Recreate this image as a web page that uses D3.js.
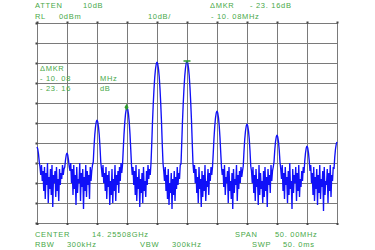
<!DOCTYPE html>
<html>
<head>
<meta charset="utf-8">
<script src="https://cdn.jsdelivr.net/npm/d3@7"></script>
<style>
  body { margin: 0; background: #fff; }
  text { font-family: "Liberation Sans", Arial, sans-serif; font-size: 7.5px; letter-spacing: 0.7px; fill: #48a848; }
</style>
</head>
<body>
<div id="chart"></div>
<script>
// spectrum trace, dBm, 401 points over the 50 MHz span (one row = 5 MHz)
const trace = [
  -62, -63, -65.5, -69.5, -72, -76, -71, -79, -74, -84, -72, -88, -75, -81, -70, -90, -77, -83, -73, -86, -71, -92, -76, -80, -74, -87, -72, -84, -78, -89, -73, -81, -75, -78, -71, -76, -73, -72, -68.5, -66,
  -65, -66, -68.5, -72, -74, -70, -80, -73, -86, -71, -83, -76, -91, -72, -85, -78, -80, -70, -89, -75, -82, -73, -93, -77, -84, -71, -87, -74, -81, -76, -88, -72, -79, -74, -71, -69.5, -62, -56, -52, -49.5,
  -48.5, -49.5, -52, -56, -62, -69.5, -73, -77, -71, -80, -75, -84, -72, -88, -76, -82, -74, -91, -79, -86, -73, -90, -78, -84, -71, -89, -76, -81, -74, -85, -72, -79, -70, -75, -71, -63.2, -55.7, -49.8, -45.6, -43.2,
  -42.2, -43.2, -45.6, -49.8, -55.7, -63.2, -71, -76, -72, -81, -74, -86, -71, -89, -77, -83, -73, -92, -78, -85, -75, -90, -72, -84, -79, -87, -74, -81, -71, -78, -73, -76, -70, -60.5, -49.5, -40.5, -33, -27, -23, -20.5,
  -19.5, -20.5, -23, -27, -33, -40.5, -49.5, -60.5, -70, -74, -79, -72, -84, -76, -88, -73, -91, -80, -85, -75, -93, -78, -86, -74, -89, -77, -83, -72, -81, -75, -78, -71, -70.5, -60, -49, -40, -32.5, -26.5, -22.5, -20,
  -19, -20, -22.5, -26.5, -32.5, -40, -49, -60, -70.5, -75, -71, -80, -73, -85, -77, -90, -72, -83, -78, -92, -74, -87, -76, -84, -71, -89, -79, -82, -73, -86, -75, -79, -72, -76, -72, -65, -57.5, -51.6, -47.4, -45,
  -44, -45, -47.4, -51.6, -57.5, -65, -72, -76, -73, -82, -71, -86, -77, -80, -74, -90, -72, -84, -79, -88, -75, -93, -73, -85, -78, -81, -71, -89, -76, -83, -74, -80, -72, -77, -74, -71.5, -64, -58, -54, -51.5,
  -50.5, -51.5, -54, -58, -64, -71.5, -74, -80, -72, -85, -76, -89, -73, -82, -78, -91, -71, -86, -75, -83, -79, -90, -74, -87, -72, -84, -77, -92, -73, -81, -76, -85, -71, -79, -74, -72, -69.5, -63.6, -59.4, -57,
  -56, -57, -59.4, -63.6, -69.5, -73, -78, -71, -84, -75, -88, -72, -81, -77, -90, -74, -86, -70, -83, -79, -93, -73, -85, -76, -80, -72, -89, -75, -84, -71, -87, -78, -82, -74, -79, -72, -75, -69, -65, -62.5,
  -61.5, -62.5, -65, -69, -74, -71, -80, -75, -86, -72, -89, -77, -83, -73, -91, -76, -85, -71, -88, -78, -82, -74, -94, -72, -86, -79, -81, -73, -90, -75, -84, -71, -87, -76, -79, -72, -73, -67, -63, -60.5,
  -59.5
];

// frequency offsets from center (MHz) and levels (dBm)
const spanMHz = 50;
const xTicks = [-25, -20, -15, -10, -5, 0, 5, 10, 15, 20, 25];
const yTicks = [0, -10, -20, -30, -40, -50, -60, -70, -80, -90, -100];
const markerFreq = 0, markerLevel = -19.0;
const deltaFreq = -10.08, deltaLevel = -42.16;

const headerTop = [
  ["ATTEN", 35, 8], ["10dB", 83, 8], ["ΔMKR", 210, 8], ["- 23. 16dB", 250, 8],
  ["RL", 35, 19], ["0dBm", 59, 19], ["10dB/", 148, 19], ["- 10. 08MHz", 211, 19]
];
const footer = [
  ["CENTER", 35, 237], ["14. 25508GHz", 92, 237], ["SPAN", 235, 237], ["50. 00MHz", 275, 237],
  ["RBW", 35, 247], ["300kHz", 67, 247], ["VBW", 140, 247], ["300kHz", 172, 247], ["SWP", 252, 247], ["50. 0ms", 283, 247]
];
const mkrBox = [
  ["ΔMKR", 40, 71], ["- 10. 08", 40, 81], ["MHz", 100, 81], ["- 23. 16", 40, 91], ["dB", 100, 91]
];

const W = 375, H = 250;
const svg = d3.select("#chart").append("svg")
    .attr("width", W)
    .attr("height", H)

const x = d3.scaleLinear().domain([-spanMHz / 2, spanMHz / 2]).range([37, 337]);
const y = d3.scaleLinear().domain([-100, 0]).range([223, 23]);

// graticule
svg.append("g").selectAll("line")
    .data(xTicks)
    .join("line")
    .attr("x1", d => x(d) + 0.5).attr("x2", d => x(d) + 0.5)
    .attr("y1", y(0)).attr("y2", y(-100))
    .style("stroke", "#7a7a7a")
    .style("stroke-width", 1)

svg.append("g").selectAll("line")
    .data(yTicks)
    .join("line")
    .attr("y1", d => y(d) + 0.5).attr("y2", d => y(d) + 0.5)
    .attr("x1", x(-25)).attr("x2", x(25) + 1)
    .style("stroke", "#7a7a7a")
    .style("stroke-width", 1)

// little tick dots outside the frame
svg.append("g").selectAll("rect")
    .data(xTicks)
    .join("rect")
    .attr("x", d => x(d) - 0.5).attr("y", y(0) - 1.5)
    .attr("width", 2).attr("height", 2)
    .style("fill", "#444")
svg.append("g").selectAll("rect")
    .data(xTicks)
    .join("rect")
    .attr("x", d => x(d) - 0.5).attr("y", y(-100))
    .attr("width", 2).attr("height", 2)
    .style("fill", "#444")
svg.append("g").selectAll("rect")
    .data(yTicks)
    .join("rect")
    .attr("x", x(-25) - 1.5).attr("y", d => y(d) - 0.5)
    .attr("width", 2).attr("height", 2)
    .style("fill", "#444")

// the trace
const step = spanMHz / (trace.length - 1);
const line = d3.line()
    .x((d, i) => x(-spanMHz / 2 + i * step))
    .y(d => y(d));

svg.append("path")
    .datum(trace)
    .attr("d", line)
    .style("fill", "none")
    .style("stroke", "#1010f8")
    .style("stroke-width", 1.35)
    .style("stroke-linejoin", "bevel")

// markers
svg.append("path")
    .attr("d", `M${x(markerFreq) - 3.5},${y(markerLevel)}h7M${x(markerFreq)},${y(markerLevel)}v2.5`)
    .style("stroke", "#2e9a2e")
    .style("stroke-width", 1.3)
    .style("fill", "none")

svg.append("path")
    .attr("d", d3.symbol().type(d3.symbolDiamond).size(14))
    .attr("transform", `translate(${x(deltaFreq)},${y(deltaLevel)})`)
    .style("fill", "#2e9a2e")

// annotations
svg.append("g").selectAll("text")
    .data(headerTop.concat(footer, mkrBox))
    .join("text")
    .attr("x", d => d[1])
    .attr("y", d => d[2])
    .text(d => d[0])
</script>
</body>
</html>
